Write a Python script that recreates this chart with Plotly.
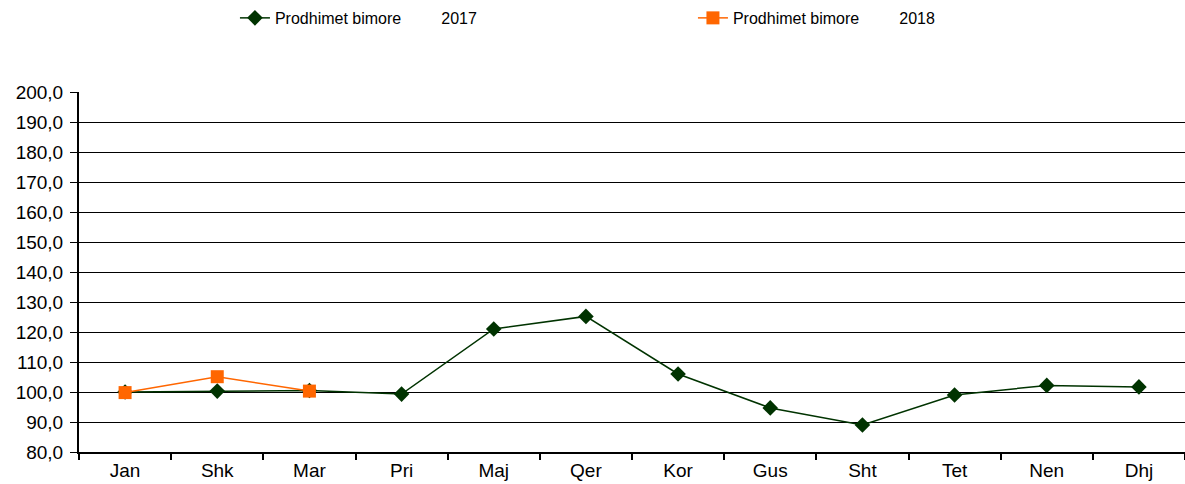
import plotly.graph_objects as go

months = ["Jan", "Shk", "Mar", "Pri", "Maj", "Qer", "Kor", "Gus", "Sht", "Tet", "Nen", "Dhj"]
vals_2017 = [100.0, 100.3, 100.5, 99.3, 121.0, 125.2, 106.0, 94.7, 89.0, 99.0, 102.2, 101.7]
months_2018 = ["Jan", "Shk", "Mar"]
vals_2018 = [99.8, 105.1, 100.3]
y_ticks = [80, 90, 100, 110, 120, 130, 140, 150, 160, 170, 180, 190, 200]

gap = "\u00a0" * 9
fig = go.Figure()
fig.add_trace(go.Scatter(
    x=months, y=vals_2017, mode="lines+markers",
    name="Prodhimet bimore" + gap + "2017",
    line=dict(color="#003300", width=1.5),
    marker=dict(symbol="diamond", size=12, color="#003300"),
))
fig.add_trace(go.Scatter(
    x=months_2018, y=vals_2018, mode="lines+markers",
    name="Prodhimet bimore" + gap + "2018",
    line=dict(color="#FF6600", width=1.5),
    marker=dict(symbol="square", size=13, color="#FF6600"),
))

fig.update_layout(
    width=1185, height=484,
    margin=dict(l=79, r=0, t=92, b=32),
    plot_bgcolor="white", paper_bgcolor="white",
    separators=",.",
    font=dict(family="Liberation Sans, Arial, sans-serif", color="black"),
    showlegend=True,
    legend=dict(
        orientation="h", x=0.141, xanchor="left",
        y=0.998, yanchor="top", yref="container",
        entrywidth=413, entrywidthmode="pixels",
        font=dict(size=16),
        bgcolor="rgba(0,0,0,0)",
        traceorder="normal",
    ),
    xaxis=dict(
        type="category", categoryorder="array", categoryarray=months,
        range=[-0.5, 11.5],
        showgrid=False, showline=True, linecolor="black", linewidth=2,
        ticks="outside", tickson="boundaries", ticklen=6, tickcolor="black", tickwidth=1.5,
        tickfont=dict(size=19),
    ),
    yaxis=dict(
        range=[80, 200], tickvals=y_ticks, tickformat=".1f",
        showgrid=True, gridcolor="black", gridwidth=1,
        showline=True, linecolor="black", linewidth=2,
        ticks="outside", ticklen=7, tickcolor="black",
        ticklabelstandoff=3,
        tickfont=dict(size=19),
        zeroline=False,
    ),
)

fig.write_html(
    "out.html",
    config={"displayModeBar": False},
    post_script="document.body.style.margin='0';document.body.style.overflow='hidden';",
)
